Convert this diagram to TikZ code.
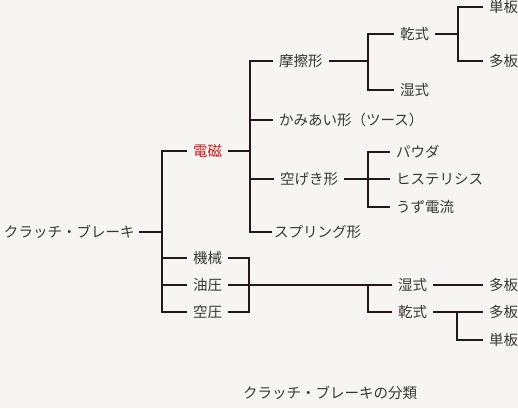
\documentclass[tikz,border=0pt]{standalone}
\usepackage{fontspec}
\setmainfont{Noto Sans CJK JP}
\usepackage{tikz}
\usetikzlibrary{calc}
\usepackage{xcolor}
\definecolor{paper}{RGB}{246,245,243}
\definecolor{ink}{RGB}{35,24,21}
\definecolor{txt}{RGB}{55,55,55}
\definecolor{emred}{RGB}{200,28,30}

\begin{document}
\begin{tikzpicture}[x=1pt,y=-1pt,line width=2pt,every node/.style={font=\fontsize{14.5}{17}\selectfont}]
\tikzstyle{lbl}=[anchor=west,inner xsep=5pt,inner ysep=1pt,text=txt]
\tikzstyle{link}=[draw=ink,line width=2pt]
\fill[paper] (0,0) rectangle (518,408);
\useasboundingbox (0,0) rectangle (518,408);
\node[lbl,inner xsep=3pt] (root) at (0,232) {クラッチ・ブレーキ};
\node[lbl,text=emred] (denji) at (187,151) {電磁};
\node[lbl] (kikai) at (187,258) {機械};
\node[lbl] (yuatsu) at (187,285) {油圧};
\node[lbl] (kuatsu) at (187,312) {空圧};
\node[lbl] (masatsu) at (273,61) {摩擦形};
\node[lbl] (kamiai) at (273,120) {かみあい形（ツース）};
\node[lbl] (kugeki) at (274,179) {空げき形};
\node[lbl,inner xsep=1pt] (spring) at (272,232) {スプリング形};
\node[lbl] (kanA) at (394,34) {乾式};
\node[lbl] (shitsuA) at (394,90) {湿式};
\node[lbl] (tanA) at (483,7) {単板};
\node[lbl] (taA) at (483,61) {多板};
\node[lbl] (powder) at (390,152) {パウダ};
\node[lbl] (hys) at (390,179) {ヒステリシス};
\node[lbl] (uzu) at (390,207) {うず電流};
\node[lbl] (shitsuB) at (392,285) {湿式};
\node[lbl] (kanB) at (392,312) {乾式};
\node[lbl] (taB) at (483,285) {多板};
\node[lbl] (taC) at (483,312) {多板};
\node[lbl] (tanB) at (483,340) {単板};
\node[lbl] (caption) at (237,393) {クラッチ・ブレーキの分類};
\coordinate (j1) at (162,232);
\coordinate (j2) at (250,151);
\coordinate (j3) at (368,61);
\coordinate (j4) at (458,34);
\coordinate (j5) at (368,179);
\coordinate (j6) at (249,285);
\coordinate (j7) at (368,285);
\coordinate (j8) at (457,312);
\draw[link] (root.east) -- (j1);
\draw[link] (denji.west) -| (j1) |- (kuatsu.west);
\draw[link] (j1 |- kikai.west) -- (kikai.west);
\draw[link] (j1 |- yuatsu.west) -- (yuatsu.west);
\draw[link] (denji.east) -- (j2);
\draw[link] (masatsu.west) -| (j2) |- (spring.west);
\draw[link] (j2 |- kamiai.west) -- (kamiai.west);
\draw[link] (j2 |- kugeki.west) -- (kugeki.west);
\draw[link] (masatsu.east) -- (j3);
\draw[link] (kanA.west) -| (j3) |- (shitsuA.west);
\draw[link] (kanA.east) -- (j4);
\draw[link] (tanA.west) -| (j4) |- (taA.west);
\draw[link] (kugeki.east) -- (j5);
\draw[link] (powder.west) -| (j5) |- (uzu.west);
\draw[link] (j5) -- (hys.west);
\draw[link] (kikai.east) -| (j6) |- (kuatsu.east);
\draw[link] (yuatsu.east) -- (shitsuB.west);
\draw[link] (j7) |- (kanB.west);
\draw[link] (shitsuB.east) -- (taB.west);
\draw[link] (kanB.east) -- (taC.west);
\draw[link] (j8) |- (tanB.west);
\end{tikzpicture}
\end{document}
